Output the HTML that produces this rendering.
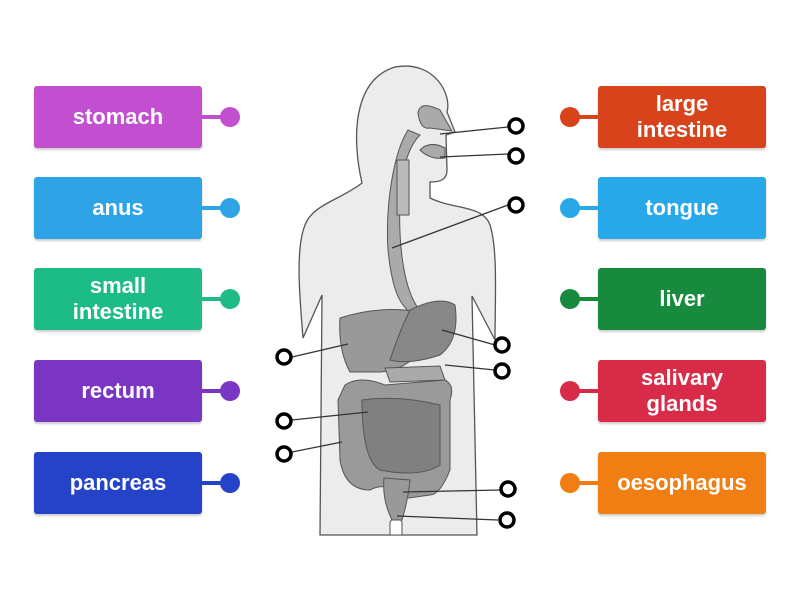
<!DOCTYPE html><html><head><style>
body{margin:0;width:800px;height:600px;background:#fff;position:relative;overflow:hidden;font-family:"Liberation Sans",sans-serif}
.b{position:absolute;width:168px;height:62px;border-radius:3px;color:#fff;font-weight:bold;font-size:22px;display:flex;align-items:center;justify-content:center;text-align:center;line-height:26px;box-shadow:0 2px 2px rgba(0,0,0,.2)}
.l{left:34px}.r{left:598px}
.c{position:absolute;height:4px;width:24px}
.d{position:absolute;width:20px;height:20px;border-radius:50%}
</style></head><body>
<svg width="800" height="600" style="position:absolute;left:0;top:0">
<path d="M362,183 C352,140 352,80 395,67 C435,60 452,95 447,112 L455,132 L446,135 L447,170 C447,180 440,182 430,182 L430,198 C455,210 483,205 490,225 C498,250 495,300 495,340 L472,296 L477,535 L320,535 L322,295 L303,338 C300,300 295,250 305,225 C312,205 340,200 362,183 Z" fill="#ececec" stroke="#555" stroke-width="1.3"/>
<path d="M390,535 L390,522 Q396,512 402,522 L402,535 Z" fill="#fff" stroke="#555"/>
<path d="M418,113 Q420,100 440,110 L452,131 L430,128 Q420,130 418,113Z" fill="#aaa" stroke="#555"/>
<path d="M420,150 Q430,140 445,148 L445,158 Q430,160 420,150Z" fill="#aaa" stroke="#555"/>
<path d="M408,130 C395,150 385,200 388,250 C392,290 400,305 410,312 L418,308 C405,290 398,250 400,200 C402,165 410,145 420,135Z" fill="#aaa" stroke="#555"/>
<rect x="397" y="160" width="12" height="55" fill="#bbb" stroke="#555"/>
<path d="M340,318 Q380,305 420,312 L430,340 Q410,370 380,372 L350,372 Q338,350 340,318Z" fill="#999" stroke="#555"/>
<path d="M410,310 Q440,295 455,305 Q460,340 440,355 Q410,365 390,360 Q400,330 410,310Z" fill="#888" stroke="#555"/>
<path d="M385,368 L440,366 L445,380 L390,382Z" fill="#aaa" stroke="#555"/>
<path d="M345,385 Q360,375 385,385 L445,380 Q455,385 450,400 L450,470 Q440,495 430,495 L395,500 Q390,480 370,490 Q345,490 340,460 L338,400Z" fill="#9a9a9a" stroke="#555"/>
<path d="M362,400 Q400,395 440,405 L440,465 Q420,478 380,470 Q362,460 362,400Z" fill="#808080" stroke="#555"/>
<path d="M384,478 L410,480 Q408,500 402,520 L392,520 Q382,500 384,478Z" fill="#999" stroke="#555"/>
<g stroke="#333" stroke-width="1.3" fill="none">
<line x1="440" y1="134" x2="508" y2="127"/><line x1="440" y1="157" x2="508" y2="154"/>
<line x1="392" y1="248" x2="508" y2="205"/><line x1="442" y1="330" x2="495" y2="345"/>
<line x1="445" y1="365" x2="495" y2="370"/><line x1="348" y1="344" x2="292" y2="357"/>
<line x1="368" y1="412" x2="292" y2="420"/><line x1="342" y1="442" x2="292" y2="452"/>
<line x1="403" y1="492" x2="500" y2="490"/><line x1="397" y1="516" x2="498" y2="520"/>
</g>
<g stroke="#000" stroke-width="3.5" fill="#fff">
<circle cx="516" cy="126" r="7"/><circle cx="516" cy="156" r="7"/><circle cx="516" cy="205" r="7"/>
<circle cx="502" cy="345" r="7"/><circle cx="502" cy="371" r="7"/><circle cx="284" cy="357" r="7"/>
<circle cx="284" cy="421" r="7"/><circle cx="284" cy="454" r="7"/><circle cx="508" cy="489" r="7"/><circle cx="507" cy="520" r="7"/>
</g></svg>
<div class="b l" style="top:86px;background:#c24fd0">stomach</div><div class="c" style="left:202px;top:115px;background:#c24fd0"></div><div class="d" style="left:220px;top:107px;background:#c24fd0"></div>
<div class="b l" style="top:177px;background:#2ea4e6">anus</div><div class="c" style="left:202px;top:206px;background:#2ea4e6"></div><div class="d" style="left:220px;top:198px;background:#2ea4e6"></div>
<div class="b l" style="top:268px;background:#1dbb85">small<br>intestine</div><div class="c" style="left:202px;top:297px;background:#1dbb85"></div><div class="d" style="left:220px;top:289px;background:#1dbb85"></div>
<div class="b l" style="top:360px;background:#7a35c3">rectum</div><div class="c" style="left:202px;top:389px;background:#7a35c3"></div><div class="d" style="left:220px;top:381px;background:#7a35c3"></div>
<div class="b l" style="top:452px;background:#2543c8">pancreas</div><div class="c" style="left:202px;top:481px;background:#2543c8"></div><div class="d" style="left:220px;top:473px;background:#2543c8"></div>
<div class="b r" style="top:86px;background:#d9431c">large<br>intestine</div><div class="c" style="left:574px;top:115px;background:#d9431c"></div><div class="d" style="left:560px;top:107px;background:#d9431c"></div>
<div class="b r" style="top:177px;background:#28a8e8">tongue</div><div class="c" style="left:574px;top:206px;background:#28a8e8"></div><div class="d" style="left:560px;top:198px;background:#28a8e8"></div>
<div class="b r" style="top:268px;background:#178a3d">liver</div><div class="c" style="left:574px;top:297px;background:#178a3d"></div><div class="d" style="left:560px;top:289px;background:#178a3d"></div>
<div class="b r" style="top:360px;background:#d82b47">salivary<br>glands</div><div class="c" style="left:574px;top:389px;background:#d82b47"></div><div class="d" style="left:560px;top:381px;background:#d82b47"></div>
<div class="b r" style="top:452px;background:#f07e12">oesophagus</div><div class="c" style="left:574px;top:481px;background:#f07e12"></div><div class="d" style="left:560px;top:473px;background:#f07e12"></div>
</body></html>
